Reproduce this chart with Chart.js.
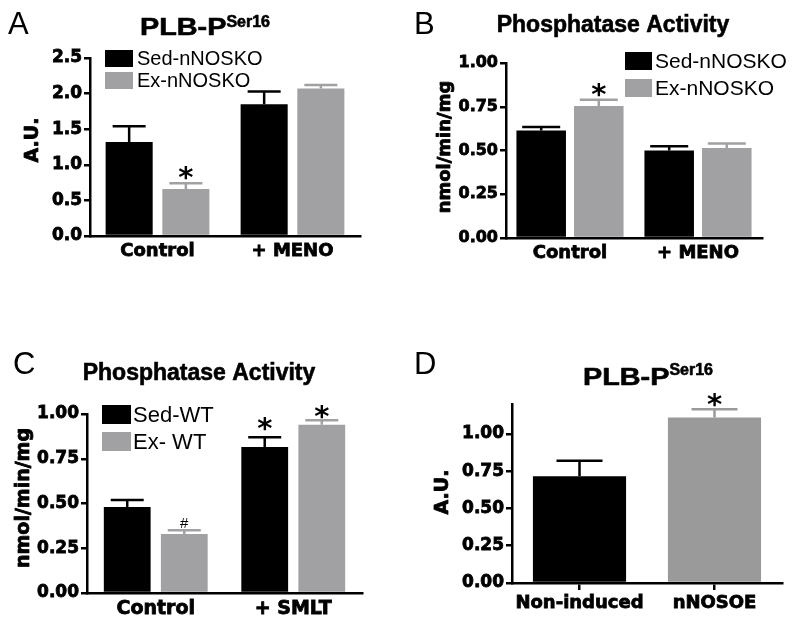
<!DOCTYPE html>
<html>
<head>
<meta charset="utf-8">
<script src="https://cdn.jsdelivr.net/npm/chart.js@4.4.1/dist/chart.umd.min.js"></script>
<style>
  body { margin: 0; background: #fff; width: 800px; height: 634px; position: relative; overflow: hidden; }
  canvas { position: absolute; }
</style>
</head>
<body>
<canvas id="cA" width="400" height="317" style="left:0;top:0;width:400px;height:317px"></canvas>
<canvas id="cB" width="400" height="317" style="left:400px;top:0;width:400px;height:317px"></canvas>
<canvas id="cC" width="400" height="317" style="left:0;top:317px;width:400px;height:317px"></canvas>
<canvas id="cD" width="400" height="317" style="left:400px;top:317px;width:400px;height:317px"></canvas>
<script>
// categories and series
const groupsA = ['Control', '+ MENO'];
const groupsB = ['Control', '+ MENO'];
const groupsC = ['Control', '+ SMLT'];
const groupsD = ['Non-induced', 'nNOSOE'];
const seriesAB = ['Sed-nNOSKO', 'Ex-nNOSKO'];
const seriesC = ['Sed-WT', 'Ex- WT'];

// values (mean, SEM)
const aSed = [1.32, 1.85];
const aSedErr = [0.22, 0.18];
const aEx = [0.66, 2.07];
const aExErr = [0.08, 0.05];

const bSed = [0.615, 0.50];
const bSedErr = [0.02, 0.025];
const bEx = [0.755, 0.515];
const bExErr = [0.035, 0.025];

const cSed = [0.48, 0.815];
const cSedErr = [0.04, 0.055];
const cEx = [0.33, 0.94];
const cExErr = [0.02, 0.025];

const dVals = [0.715, 1.11];
const dErr = [0.105, 0.055];

// tick labels
const yTicksA = [0, 0.5, 1.0, 1.5, 2.0, 2.5];
const yTicksBC = [0, 0.25, 0.5, 0.75, 1.0];
const yTicksD = [0, 0.25, 0.5, 0.75, 1.0];

const SANS = '"Liberation Sans", Arial, sans-serif';
const DJ = '"DejaVu Sans", sans-serif';
const BLACK = '#000000';
const GRAY = '#a1a1a4';
const GRAY_D = '#9a9a9a';
const W = 400, H = 317;

const titlePLB = [
  { text: 'PLB-P', size: 24, sx: 1.2, rise: 0 },
  { text: 'Ser16', size: 16, sx: 1, rise: 8 }
];
const titlePhos = [{ text: 'Phosphatase Activity', size: 23, sx: 1, rise: 0 }];

// fill + thin stroke, to get the heavy look of the original labels
function heavyText(ctx, text, x, y, sw) {
  ctx.fillText(text, x, y);
  if (sw) {
    ctx.lineWidth = sw;
    ctx.strokeStyle = ctx.fillStyle;
    ctx.lineJoin = 'round';
    ctx.strokeText(text, x, y);
  }
}

function decoPlugin(cfg) {
  return {
    id: 'deco',
    afterDatasetsDraw(chart) {
      const ctx = chart.ctx;
      const yScale = chart.scales.y;
      ctx.save();
      // error bars (upper only)
      chart.data.datasets.forEach((ds, i) => {
        const meta = chart.getDatasetMeta(i);
        meta.data.forEach((bar, j) => {
          const col = Array.isArray(ds.backgroundColor) ? ds.backgroundColor[j] : ds.backgroundColor;
          const top = yScale.getPixelForValue(ds.data[j] + ds.errors[j]);
          ctx.strokeStyle = col;
          ctx.lineWidth = 2.5;
          ctx.beginPath();
          ctx.moveTo(bar.x, bar.y);
          ctx.lineTo(bar.x, top);
          ctx.moveTo(bar.x - cfg.capW / 2, top);
          ctx.lineTo(bar.x + cfg.capW / 2, top);
          ctx.stroke();
        });
      });
      // significance marks
      (cfg.marks || []).forEach(m => {
        const ds = chart.data.datasets[m.ds];
        const bar = chart.getDatasetMeta(m.ds).data[m.i];
        const top = yScale.getPixelForValue(ds.data[m.i] + ds.errors[m.i]);
        ctx.font = m.font || ('bold 29px ' + DJ);
        ctx.fillStyle = BLACK;
        ctx.textAlign = 'center';
        ctx.textBaseline = 'alphabetic';
        const tm = ctx.measureText(m.text);
        const cy = top - m.gap;
        ctx.fillText(m.text, bar.x, cy + (tm.actualBoundingBoxAscent - tm.actualBoundingBoxDescent) / 2);
      });
      ctx.restore();
    },
    afterDraw(chart) {
      const ctx = chart.ctx;
      ctx.save();
      ctx.fillStyle = BLACK;
      // panel letter
      ctx.font = '31px ' + SANS;
      ctx.textAlign = 'left';
      ctx.textBaseline = 'alphabetic';
      ctx.fillText(cfg.letter.text, cfg.letter.x, cfg.letter.y);
      // title (with optional superscript)
      let total = 0;
      cfg.title.parts.forEach(p => {
        ctx.font = 'bold ' + p.size + 'px ' + SANS;
        p.w = ctx.measureText(p.text).width * p.sx;
        total += p.w;
      });
      let x = cfg.title.cx - total / 2;
      cfg.title.parts.forEach(p => {
        ctx.font = 'bold ' + p.size + 'px ' + SANS;
        ctx.save();
        ctx.translate(x, cfg.title.y - p.rise);
        ctx.scale(p.sx, 1);
        heavyText(ctx, p.text, 0, 0, 0.6);
        ctx.restore();
        x += p.w;
      });
      // y-axis title
      ctx.save();
      ctx.translate(cfg.yTitle.x, cfg.yTitle.y);
      ctx.rotate(-Math.PI / 2);
      ctx.font = 'bold ' + cfg.yTitle.size + 'px ' + DJ;
      ctx.textAlign = 'center';
      ctx.textBaseline = 'middle';
      heavyText(ctx, cfg.yTitle.text, 0, 0, 0.8);
      ctx.restore();
      // legend inside plot
      if (cfg.legend) {
        const lg = cfg.legend;
        ctx.font = lg.size + 'px ' + SANS;
        ctx.textBaseline = 'middle';
        chart.data.datasets.forEach((ds, i) => {
          const by = lg.y + i * lg.gap;
          ctx.fillStyle = ds.backgroundColor;
          ctx.fillRect(lg.x, by, lg.w, lg.h);
          ctx.fillStyle = BLACK;
          ctx.fillText(ds.label, lg.textX, by + lg.h / 2 + 1);
        });
      }
      ctx.restore();
    }
  };
}

function makePanel(id, p) {
  const a = p.area;
  return new Chart(document.getElementById(id), {
    type: 'bar',
    data: { labels: p.labels, datasets: p.datasets },
    options: {
      responsive: false,
      animation: false,
      devicePixelRatio: 1,
      layout: { padding: { left: 0, top: a.top, right: W - a.right, bottom: 0 } },
      datasets: { bar: { categoryPercentage: p.catPct, barPercentage: p.barPct } },
      plugins: { legend: { display: false }, tooltip: { enabled: false }, title: { display: false } },
      scales: {
        x: {
          afterFit: s => { s.height = H - a.bottom; },
          ticks: { font: { family: DJ, weight: 'bold', size: p.xSize }, color: BLACK, padding: p.xPad,
                   textStrokeColor: BLACK, textStrokeWidth: 0.8 },
          grid: { display: true, drawOnChartArea: false, drawTicks: !!p.xTicks, tickLength: 7,
                  offset: false, color: BLACK, lineWidth: 2.5 },
          border: { color: BLACK, width: 2.5 }
        },
        y: {
          min: 0, max: p.yMax,
          afterFit: s => { s.width = a.left; },
          afterBuildTicks: s => { s.ticks = p.yTicks.map(v => ({ value: v })); },
          ticks: { font: { family: DJ, weight: 'bold', size: p.tickSize }, color: BLACK, padding: 2,
                   textStrokeColor: BLACK, textStrokeWidth: 0.8,
                   callback: v => Number(v).toFixed(p.dec) },
          grid: { drawOnChartArea: false, color: BLACK, lineWidth: 2.5, tickLength: 6 },
          border: { color: BLACK, width: 2.5 }
        }
      }
    },
    plugins: [decoPlugin(p)]
  });
}

makePanel('cA', {
  area: { left: 90, right: 360, top: 58, bottom: 236 },
  labels: groupsA, yMax: 2.5, yTicks: yTicksA, dec: 1, tickSize: 17, xSize: 18, xPad: 5,
  datasets: [
    { label: seriesAB[0], data: aSed, errors: aSedErr, backgroundColor: BLACK },
    { label: seriesAB[1], data: aEx, errors: aExErr, backgroundColor: GRAY }
  ],
  catPct: 0.84, barPct: 0.83, capW: 33,
  letter: { text: 'A', x: 8, y: 34 },
  title: { cx: 205, y: 35, parts: titlePLB.map(o => ({ ...o })) },
  yTitle: { text: 'A.U.', x: 33, y: 140, size: 19 },
  legend: { x: 105, y: 50, w: 28, h: 17, gap: 22, size: 20, textX: 137 },
  marks: [{ ds: 1, i: 0, text: '*', gap: 10 }]
});

makePanel('cB', {
  area: { left: 106, right: 362, top: 63, bottom: 238 },
  labels: groupsB, yMax: 1.0, yTicks: yTicksBC, dec: 2, tickSize: 16, xSize: 18, xPad: 5,
  datasets: [
    { label: seriesAB[0], data: bSed, errors: bSedErr, backgroundColor: BLACK },
    { label: seriesAB[1], data: bEx, errors: bExErr, backgroundColor: GRAY }
  ],
  catPct: 0.9, barPct: 0.86, capW: 38,
  letter: { text: 'B', x: 14, y: 34 },
  title: { cx: 613 - 400, y: 32, parts: titlePhos.map(o => ({ ...o })) },
  yTitle: { text: 'nmol/min/mg', x: 45, y: 147, size: 18 },
  legend: { x: 225, y: 52, w: 27, h: 18, gap: 27, size: 21, textX: 255 },
  marks: [{ ds: 1, i: 0, text: '*', gap: 10 }]
});

makePanel('cC', {
  area: { left: 87, right: 362, top: 97, bottom: 276 },
  labels: groupsC, yMax: 1.0, yTicks: yTicksBC, dec: 2, tickSize: 17, xSize: 19, xPad: 5,
  datasets: [
    { label: seriesC[0], data: cSed, errors: cSedErr, backgroundColor: BLACK },
    { label: seriesC[1], data: cEx, errors: cExErr, backgroundColor: GRAY }
  ],
  catPct: 0.83, barPct: 0.82, capW: 33,
  letter: { text: 'C', x: 13, y: 57 },
  title: { cx: 199, y: 63, parts: titlePhos.map(o => ({ ...o })) },
  yTitle: { text: 'nmol/min/mg', x: 24, y: 181, size: 19 },
  legend: { x: 102, y: 88, w: 29, h: 19, gap: 27, size: 22, textX: 133 },
  marks: [
    { ds: 1, i: 0, text: '#', gap: 7, font: '15px ' + SANS },
    { ds: 0, i: 1, text: '*', gap: 13 },
    { ds: 1, i: 1, text: '*', gap: 8 }
  ]
});

makePanel('cD', {
  area: { left: 112, right: 382, top: 87, bottom: 266 },
  labels: groupsD, yMax: 1.2, yTicks: yTicksD, dec: 2, tickSize: 17, xSize: 18, xPad: 3, xTicks: true,
  datasets: [
    { label: 'PLB-P Ser16', data: dVals, errors: dErr, backgroundColor: [BLACK, GRAY_D] }
  ],
  catPct: 1.0, barPct: 0.69, capW: 46,
  letter: { text: 'D', x: 14, y: 57 },
  title: { cx: 248, y: 68, parts: titlePLB.map(o => ({ ...o, rise: o.rise ? 10 : 0 })) },
  yTitle: { text: 'A.U.', x: 43, y: 175, size: 19 },
  legend: null,
  marks: [{ ds: 0, i: 1, text: '*', gap: 9 }]
});
</script>
</body>
</html>
